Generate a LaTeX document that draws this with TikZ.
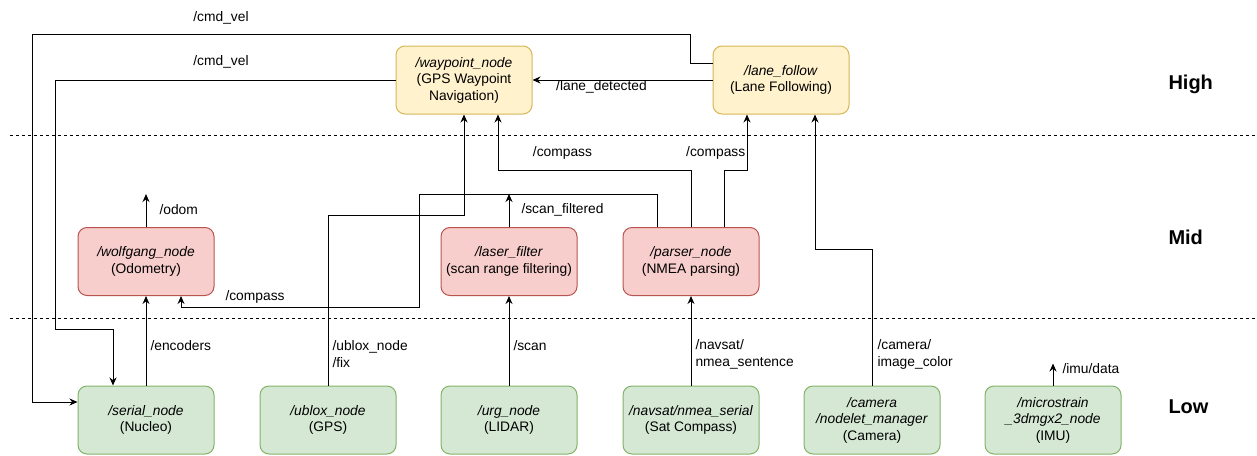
\documentclass[tikz,border=0pt]{standalone}
\usepackage{fontspec}
\setmainfont{Liberation Sans}
\usetikzlibrary{arrows.meta}
\definecolor{highfill}{HTML}{FFF2CC}
\definecolor{highdraw}{HTML}{D6B656}
\definecolor{midfill}{HTML}{F8CECC}
\definecolor{middraw}{HTML}{B85450}
\definecolor{lowfill}{HTML}{D5E8D4}
\definecolor{lowdraw}{HTML}{82B366}

\begin{document}
\begin{tikzpicture}[x=1pt,y=-1pt,line width=1pt,>={Stealth[length=8pt,width=7pt]},
  rosnode/.style={rounded corners=9pt,minimum width=136pt,minimum height=68pt,
    align=center,inner sep=0pt,font=\fontsize{13.8}{16.5}\selectfont},
  highnode/.style={rosnode,fill=highfill,draw=highdraw},
  midnode/.style={rosnode,fill=midfill,draw=middraw},
  lownode/.style={rosnode,fill=lowfill,draw=lowdraw},
  topic/.style={font=\fontsize{13.8}{17}\selectfont,inner sep=0pt,align=left},
  layer/.style={font=\bfseries\fontsize{20}{24}\selectfont,anchor=west,inner sep=0pt},
  sep/.style={dash pattern=on 3pt off 3pt,line width=0.8pt}]
\useasboundingbox (0,0) rectangle (1257,455);
% ---------- layer separators ----------
\draw[sep] (10,135) -- (1257,135);
\draw[sep] (10,318) -- (1257,318);
\node[layer] (high) at (1168,84) {High};
\node[layer] (mid) at (1168,237) {Mid};
\node[layer] (low) at (1168,407) {Low};
% ---------- high level ----------
\node[highnode] (waypoint) at (464,80) {\textit{/waypoint\_node}\\(GPS Waypoint\\Navigation)};
\node[highnode] (lane) at (781,80) {\textit{/lane\_follow}\\(Lane Following)};
% ---------- mid level ----------
\node[midnode] (wolfgang) at (146,261.5) {\textit{/wolfgang\_node}\\(Odometry)};
\node[midnode] (laser) at (509,261.5) {\textit{/laser\_filter}\\(scan range filtering)};
\node[midnode] (parser) at (691,261.5) {\textit{/parser\_node}\\(NMEA parsing)};
% ---------- low level ----------
\node[lownode] (serial) at (146,420) {\textit{/serial\_node}\\(Nucleo)};
\node[lownode] (ublox) at (328,420) {\textit{/ublox\_node}\\(GPS)};
\node[lownode] (urg) at (509,420) {\textit{/urg\_node}\\(LIDAR)};
\node[lownode] (navsat) at (691,420) {\textit{/navsat/nmea\_serial}\\(Sat Compass)};
\node[lownode] (camera) at (872,420) {\textit{/camera}\\\textit{/nodelet\_manager}\\(Camera)};
\node[lownode] (imu) at (1053,420) {\textit{/microstrain}\\\textit{\_3dmgx2\_node}\\(IMU)};
% ---------- cmd_vel ----------
\draw[->] ([yshift=17pt]lane.west) -- ++(-22,0) |- (32.7,34.3) |- ([yshift=18pt]serial.west);
\node[topic] (cmdvelA) at (221,18) {/cmd\_vel};
\draw[->] (waypoint.west) -| (55.7,329.3) -| ([xshift=-33pt]serial.north);
\node[topic] (cmdvelB) at (221,62) {/cmd\_vel};
% ---------- lane / odometry ----------
\draw[->] (lane.west) -- (waypoint.east);
\node[topic] (lanedet) at (601.5,87.3) {/lane\_detected};
\draw[->] (wolfgang.north) -- ++(0,-33) coordinate (odomend);
\node[topic,anchor=west] (odom) at (159,210) {/odom};
\draw[->] (serial.north) -- (wolfgang.south);
\node[topic,anchor=west] (encoders) at (150,346) {/encoders};
% ---------- compass ----------
\draw[->] ([xshift=-34pt]parser.north) |- (419,194) |- (181,307) -- ([xshift=35pt]wolfgang.south);
\node[topic,anchor=west] (compassA) at (225,297) {/compass};
\draw[->] (parser.north) -- ++(0,-56.5) -| ([xshift=34pt]waypoint.south);
\node[topic] (compassB) at (562.5,152.7) {/compass};
\draw[->] ([xshift=33pt]parser.north) -- ++(0,-56.5) -| ([xshift=-34pt]lane.south);
\node[topic,anchor=west] (compassC) at (685.7,152.7) {/compass};
% ---------- sensors ----------
\draw[->] (ublox.north) -- ++(0,-170) -| (waypoint.south);
\node[topic,anchor=west] (fix) at (332,354) {/ublox\_node\\/fix};
\draw[->] (urg.north) -- (laser.south);
\node[topic,anchor=west] (scan) at (513,346) {/scan};
\draw[->] (laser.north) -- ++(0,-33) coordinate (filteredend);
\node[topic,anchor=west] (filtered) at (521,210) {/scan\_filtered};
\draw[->] (navsat.north) -- (parser.south);
\node[topic,anchor=west] (sentence) at (695,354) {/navsat/\\nmea\_sentence};
\draw[->] (camera.north) -- ++(0,-136) -| ([xshift=34pt]lane.south);
\node[topic,anchor=west] (image) at (877,354) {/camera/\\image\_color};
\draw[->] (imu.north) -- ++(0,-22) coordinate (imuend);
\node[topic,anchor=west] (imudata) at (1062,369) {/imu/data};
\end{tikzpicture}
\end{document}
